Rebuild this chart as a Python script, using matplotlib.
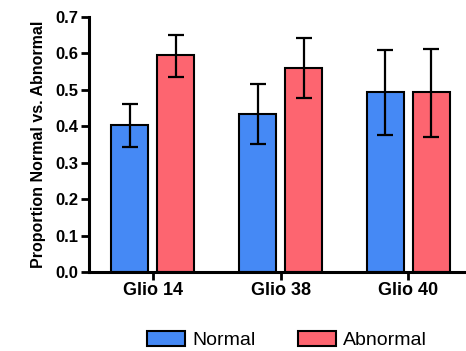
import matplotlib
matplotlib.use("Agg")
import matplotlib.pyplot as plt
import numpy as np
from matplotlib.patches import Patch

plt.rcParams['font.family'] = ['Liberation Sans', 'DejaVu Sans']

categories = ["Glio 14", "Glio 38", "Glio 40"]
normal = [0.403, 0.434, 0.494]
normal_err_hi = [0.460, 0.516, 0.608]
normal_err_lo = [0.344, 0.352, 0.376]
abnormal = [0.595, 0.561, 0.494]
abnormal_err_hi = [0.650, 0.642, 0.613]
abnormal_err_lo = [0.536, 0.478, 0.371]
yticks = [0.0, 0.1, 0.2, 0.3, 0.4, 0.5, 0.6, 0.7]

blue = "#4589f5"
red = "#fd6570"

fig = plt.figure(figsize=(4.66, 3.51), dpi=100)
ax = fig.add_axes([0.191, 0.225, 0.809, 0.727])

x = np.arange(len(categories))
w = 0.29
off = 0.18
n = np.array(normal); a = np.array(abnormal)
nerr = [n - np.array(normal_err_lo), np.array(normal_err_hi) - n]
aerr = [a - np.array(abnormal_err_lo), np.array(abnormal_err_hi) - a]
ekw = dict(elinewidth=1.6, capthick=1.6, capsize=5.5, ecolor='black')
ax.bar(x - off, n, w, color=blue, edgecolor='black', linewidth=1.5, yerr=nerr, error_kw=ekw, zorder=2)
ax.bar(x + off, a, w, color=red, edgecolor='black', linewidth=1.5, yerr=aerr, error_kw=ekw, zorder=2)

ax.set_xlim(-0.5, 2.45)
ax.set_ylim(0, 0.7)
ax.set_yticks(yticks)
ax.set_yticklabels([f"{t:.1f}" for t in yticks], fontsize=12, fontweight='bold')
ax.set_xticks(x)
ax.set_xticklabels(categories, fontsize=13, fontweight='bold')
ax.set_ylabel("Proportion Normal vs. Abnormal", fontsize=11.5, fontweight='bold', labelpad=7)
for s in ['top', 'right']:
    ax.spines[s].set_visible(False)
for s in ['left', 'bottom']:
    ax.spines[s].set_linewidth(2.2)
ax.tick_params(axis='both', width=2.0, length=6, pad=1.5)

handles = [Patch(facecolor=blue, edgecolor='black', linewidth=1.5, label='Normal'),
           Patch(facecolor=red, edgecolor='black', linewidth=1.5, label='Abnormal')]
fig.legend(handles=handles, loc='center', bbox_to_anchor=(0.616, 0.03), ncol=2, frameon=False,
           fontsize=14, handlelength=1.95, handleheight=0.77, handletextpad=0.36, columnspacing=2.2,
           borderpad=0.0)

fig.savefig("out.png", dpi=100)
